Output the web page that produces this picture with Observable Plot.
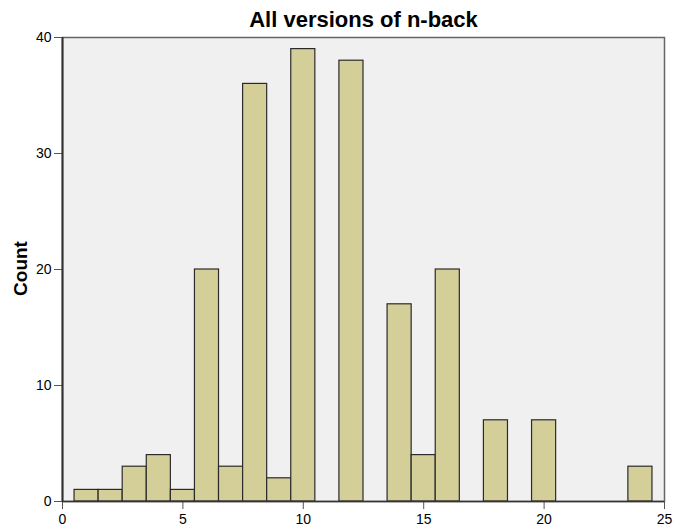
<!DOCTYPE html>
<html>
<head>
<meta charset="utf-8">
<script src="https://cdn.jsdelivr.net/npm/d3@7"></script>
<script src="https://cdn.jsdelivr.net/npm/@observablehq/plot@0.6"></script>
<style>
  body { margin: 0; background: #fff; }
  svg { font-family: "Liberation Sans", Arial, sans-serif; }
</style>
</head>
<body>
<div id="chart"></div>
<script>
const values = [1, 2, 3, 4, 5, 6, 7, 8, 9, 10, 12, 14, 15, 16, 18, 20, 24];
const counts = [1, 1, 3, 4, 1, 20, 3, 36, 2, 39, 38, 17, 4, 20, 7, 7, 3];
const xTicks = [0, 5, 10, 15, 20, 25];
const yTicks = [0, 10, 20, 30, 40];
const title = "All versions of n-back";
const yLabel = "Count";

const data = values.map((v, i) => ({v, c: counts[i]}));

const chart = Plot.plot({
  width: 674,
  height: 526,
  marginLeft: 62,
  marginRight: 10,
  marginTop: 37,
  marginBottom: 25,
  style: {fontFamily: "Liberation Sans, Arial, sans-serif", fontSize: "14px", color: "#000", background: "#fff"},
  x: {domain: [0, 25], label: null},
  y: {domain: [0, 40], label: null},
  marks: [
    Plot.frame({fill: "#F0F0F0", stroke: "#666", strokeWidth: 1.5}),
    Plot.rectY(data, {x1: d => d.v - 0.5, x2: d => d.v + 0.5, y1: 0, y2: "c", fill: "#D4CF99", stroke: "#2b2b2b", strokeWidth: 1.2}),
    Plot.axisX({ticks: xTicks, tickSize: 8, tickPadding: 5, label: null, stroke: "#555", fill: "#000", fontSize: 14}),
    Plot.axisY({ticks: yTicks, tickSize: 8, tickPadding: 3, label: null, stroke: "#555", fill: "#000", fontSize: 14}),
    Plot.ruleY([0], {stroke: "#333", strokeWidth: 1.5}),
    Plot.ruleX([0], {stroke: "#333", strokeWidth: 2}),
    Plot.text([title], {frameAnchor: "top", textAnchor: "middle", lineAnchor: "middle", dy: -18, fontSize: 22, fontWeight: "bold", fill: "#000"}),
    Plot.text([yLabel], {frameAnchor: "left", textAnchor: "middle", lineAnchor: "middle", dx: -42, dy: -1, rotate: -90, fontSize: 19, fontWeight: "bold", fill: "#000"})
  ]
});
document.getElementById("chart").appendChild(chart);
</script>
</body>
</html>
